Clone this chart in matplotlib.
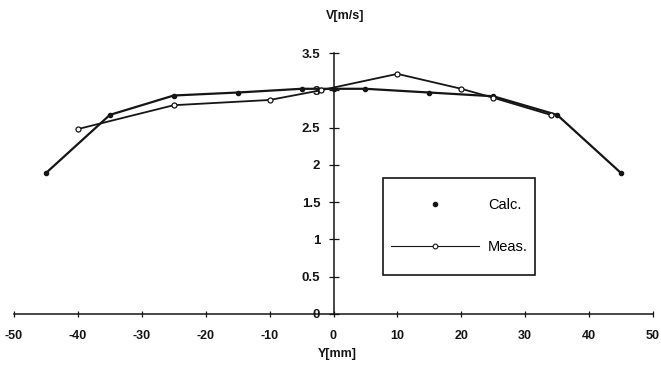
"""
Velocity profile V vs Y: calculated vs measured.
Axes cross at the origin, boxed legend on the right.
"""

import matplotlib.pyplot as plt
from matplotlib.lines import Line2D
from matplotlib.patches import Rectangle

plt.rcParams["font.family"] = ["Liberation Sans", "DejaVu Sans"]
plt.rcParams["axes.unicode_minus"] = False

# Calculated profile (filled dots)
calc_y = [-45, -35, -25, -15, -5, 0, 5, 15, 25, 35, 45]
calc_v = [1.89, 2.67, 2.93, 2.97, 3.02, 3.02, 3.02, 2.97, 2.92, 2.67, 1.89]

# Measured profile (open circles)
meas_y = [-40, -25, -10, -2, 10, 20, 25, 34]
meas_v = [2.48, 2.80, 2.87, 3.00, 3.22, 3.02, 2.90, 2.67]

xticks = [-50, -40, -30, -20, -10, 0, 10, 20, 30, 40, 50]
yticks = [0, 0.5, 1, 1.5, 2, 2.5, 3, 3.5]

W, H = 661, 368
fig = plt.figure(figsize=(W / 100, H / 100), dpi=100)
ax = fig.add_axes([14 / W, (H - 314) / H, 639 / W, 261 / H])

ink = "#151515"
ax.plot(calc_y, calc_v, "-o", color=ink, lw=1.6, ms=3.0, zorder=3)
ax.plot(meas_y, meas_v, "-o", color=ink, lw=1.3, ms=3.6,
        markerfacecolor="white", markeredgewidth=0.9, zorder=3)

ax.set_xlim(-50, 50)
ax.set_ylim(0, 3.5)

# Axes crossing at the origin
for side in ("top", "right"):
    ax.spines[side].set_visible(False)
ax.spines["left"].set_position(("data", 0))
ax.spines["bottom"].set_position(("data", 0))
ax.spines["left"].set_color(ink)
ax.spines["bottom"].set_color(ink)
ax.spines["left"].set_linewidth(1.1)
ax.spines["bottom"].set_linewidth(1.1)

ax.set_xticks(xticks)
ax.set_xticklabels([f"{t:g}" for t in xticks])
ax.set_yticks(yticks)
ax.set_yticklabels([f"{t:g}" for t in yticks])
ax.tick_params(axis="x", direction="inout", length=5, width=0.9, pad=9,
               labelsize=9, colors=ink)
ax.tick_params(axis="y", direction="inout", length=7, width=0.9, pad=6,
               labelsize=9.5, colors=ink)
for lab in ax.get_xticklabels() + ax.get_yticklabels():
    lab.set_fontweight("bold")

fig.text(337 / W, 1 - 354 / H, "Y[mm]", ha="center", va="center",
         fontsize=9, fontweight="bold", color=ink)
fig.text(345 / W, 1 - 16 / H, "V[m/s]", ha="center", va="center",
         fontsize=9, fontweight="bold", color=ink)

# Legend: a plain box drawn by hand, entries from a frameless legend
fig.patches.append(Rectangle((383 / W, 1 - 275 / H), 152 / W, 97 / H,
                             transform=fig.transFigure, fill=False,
                             edgecolor=ink, linewidth=1.2))
handles = [
    Line2D([], [], ls="none", marker="o", ms=3.0, color=ink),
    Line2D([], [], ls="-", lw=0.8, marker="o", ms=3.4, color=ink,
           markerfacecolor="white", markeredgewidth=0.8),
]
fig.legend(handles, ["Calc.", "Meas."], loc="center left",
           bbox_to_anchor=(391 / W, 1 - 226 / H), frameon=False,
           fontsize=10.5, handlelength=6.0, handletextpad=0.65,
           labelspacing=1.95, borderpad=0, borderaxespad=0, numpoints=1)

fig.savefig("out.png", dpi=100)
plt.close(fig)
